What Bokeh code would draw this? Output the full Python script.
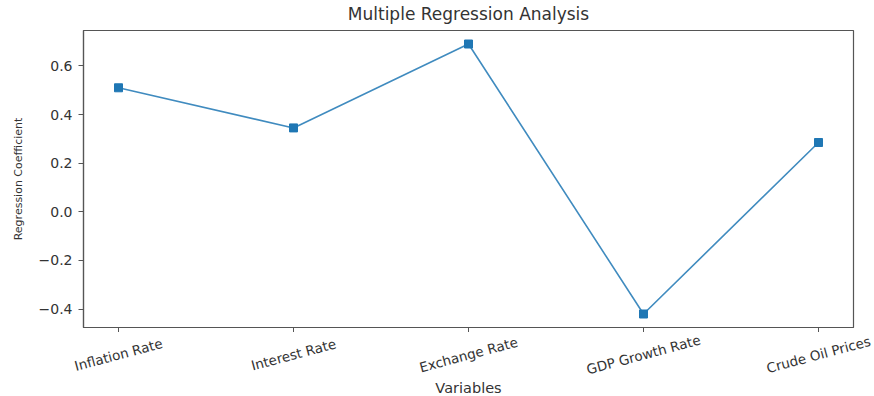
import math
from bokeh.plotting import figure
from bokeh.layouts import column
from bokeh.models import Range1d, FixedTicker, ColumnDataSource
from bokeh.core.properties import value
from bokeh.embed import file_html
from bokeh.resources import INLINE

categories = ["Inflation Rate", "Interest Rate", "Exchange Rate", "GDP Growth Rate", "Crude Oil Prices"]
coefficients = [0.51, 0.345, 0.69, -0.42, 0.285]
y_ticks = [-0.4, -0.2, 0.0, 0.2, 0.4, 0.6]
y_tick_labels = ["\u22120.4", "\u22120.2", "0.0", "0.2", "0.4", "0.6"]
x_title = "Variables"
y_title = "Regression Coefficient"
chart_title = "Multiple Regression Analysis"

xs = list(range(len(categories)))
ymin, ymax = min(coefficients), max(coefficients)
ypad = (ymax - ymin) * 0.05
xpad = (xs[-1] - xs[0]) * 0.05

FONT = "DejaVu Sans"
TXT = "#333333"
SPINE = "#555555"

W = 874
BL, BR = 83, 21            # frame borders of the main plot
TICK = 5
H0 = 28                    # title strip
H1 = 304                   # main plot (frame 30..327 overall, plus ticks)
H2 = 396 - H0 - H1         # strip with category names and x title

x0, x1 = xs[0] - xpad, xs[-1] + xpad
k = (x1 - x0) / (W - BL - BR)
full_x = (x0 - BL * k, x1 + BR * k)   # same data->pixel mapping over the full width


def strip(height):
    f = figure(width=W, height=height, output_backend="svg", toolbar_location=None,
               x_range=Range1d(*full_x), y_range=Range1d(0, 1),
               x_axis_type=None, y_axis_type=None, frame_align=False,
               min_border_left=0, min_border_right=0, min_border_top=0, min_border_bottom=0)
    f.grid.visible = False
    f.outline_line_color = None
    f.background_fill_color = "white"
    f.border_fill_color = "white"
    return f


# ---- title strip -----------------------------------------------------------
p0 = strip(H0)
t_src = ColumnDataSource(dict(x=[(x0 + x1) / 2], y=[1], text=[chart_title]))
p0.text("x", "y", text="text", source=t_src, y_offset=13,
        text_align="center", text_baseline="middle",
        text_font=value(FONT), text_font_size="17px", text_color=TXT)

# ---- main plot -------------------------------------------------------------
p = figure(width=W, height=H1, output_backend="svg", toolbar_location=None,
           x_range=Range1d(x0, x1),
           y_range=Range1d(ymin - ypad, ymax + ypad),
           min_border_left=BL, min_border_right=BR, min_border_top=2, min_border_bottom=TICK)

p.grid.visible = False
p.outline_line_color = SPINE
p.outline_line_width = 1.2
p.background_fill_color = "white"
p.border_fill_color = "white"

src = ColumnDataSource(dict(x=xs, y=coefficients, name=categories))
p.line("x", "y", source=src, line_color="#1f77b4", line_width=1.6, line_alpha=0.85)
p.scatter("x", "y", source=src, marker="square", size=8, fill_color="#1f77b4", line_color="#1f77b4")

p.xaxis.ticker = FixedTicker(ticks=xs)
p.xaxis.major_label_overrides = {i: "" for i in xs}
p.xaxis.major_label_text_font_size = "0px"
p.xaxis.major_label_standoff = 0

p.yaxis.ticker = FixedTicker(ticks=y_ticks)
p.yaxis.major_label_overrides = {t: l for t, l in zip(y_ticks, y_tick_labels)}
p.yaxis.major_label_text_font = FONT
p.yaxis.major_label_text_font_size = "14px"
p.yaxis.major_label_text_color = TXT
p.yaxis.major_label_standoff = 6
p.yaxis.axis_label = y_title
p.yaxis.axis_label_text_font = FONT
p.yaxis.axis_label_text_font_size = "11px"
p.yaxis.axis_label_text_font_style = "normal"
p.yaxis.axis_label_text_color = TXT
p.yaxis.axis_label_standoff = 11

for ax in (p.xaxis, p.yaxis):
    ax.axis_line_color = SPINE
    ax.axis_line_width = 1.2
    ax.major_tick_line_color = SPINE
    ax.major_tick_in = 0
    ax.major_tick_out = TICK
    ax.minor_tick_line_color = None

# ---- strip below: rotated category names + x-axis title ---------------------
p2 = strip(H2)
lab_src = ColumnDataSource(dict(x=xs, y=[1] * len(xs), text=categories))
p2.text("x", "y", text="text", source=lab_src, angle=math.radians(15), y_offset=22,
        text_align="center", text_baseline="middle",
        text_font=value(FONT), text_font_size="13.5px", text_color=TXT)

xt_src = ColumnDataSource(dict(x=[(x0 + x1) / 2], y=[1], text=[x_title]))
p2.text("x", "y", text="text", source=xt_src, y_offset=55,
        text_align="center", text_baseline="middle",
        text_font=value(FONT), text_font_size="14.5px", text_color=TXT)

layout = column(p0, p, p2, spacing=0)
open("out.html", "w").write(file_html(layout, INLINE))
